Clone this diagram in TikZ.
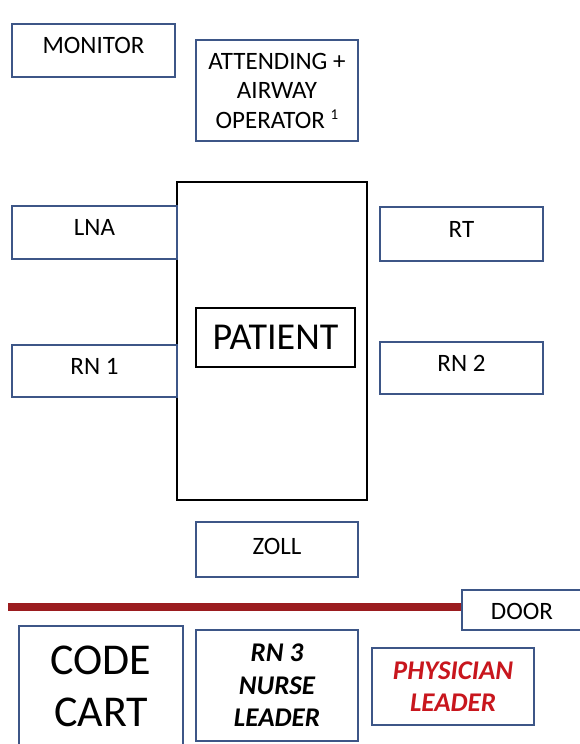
\documentclass[tikz,border=0pt]{standalone}
\usepackage{fontspec}
\setmainfont{Carlito}
\definecolor{boxblue}{HTML}{3D5687}
\definecolor{wallred}{HTML}{9B1C1F}
\definecolor{leadred}{HTML}{C8161D}
\begin{document}
\begin{tikzpicture}[x=1pt,y=-1pt,
  station/.style={draw=boxblue,line width=2.2pt,fill=white,inner sep=0pt},
  bedbox/.style={draw=black,line width=2.2pt,inner sep=0pt},
  lbl/.style={inner sep=0pt,align=center,font=\fontsize{25}{29.5}\selectfont},
  bigl/.style={inner sep=0pt,align=center,font=\fontsize{44}{52}\selectfont},
  leadl/.style={inner sep=0pt,align=center,font=\fontsize{27}{32.5}\selectfont\bfseries\itshape}]
\useasboundingbox (0,0) rectangle (579,744);

% top row
\node[station,minimum width=163pt,minimum height=53pt] (mon) at (93.5,50.5) {};
\node[lbl] (monl) at ([yshift=5pt]mon.center) {MONITOR};
\node[station,minimum width=162pt,minimum height=101pt] (att) at (277,90.5) {};
\node[lbl] (attl) at (att.center) {ATTENDING +\\AIRWAY\\OPERATOR \raisebox{0.35em}{\fontsize{15}{15}\selectfont 1}};

% bed and patient
\node[bedbox,minimum width=190pt,minimum height=318pt] (bed) at (272,341) {};
\node[bedbox,minimum width=159pt,minimum height=59pt] (pat) at (275.5,337.5) {};
\node[bigl,font=\fontsize{38}{44}\selectfont] (patl) at (pat.center) {PATIENT};

% bedside stations
\node[station,minimum width=165pt,minimum height=53pt] (lna) at (94.5,232.5) {};
\node[lbl] (lnal) at ([yshift=5pt]lna.center) {LNA};
\node[station,minimum width=163pt,minimum height=54pt] (rt) at (461.5,234) {};
\node[lbl] (rtl) at ([yshift=5pt]rt.center) {RT};
\node[station,minimum width=165pt,minimum height=52pt] (rn1) at (94.5,371) {};
\node[lbl] (rn1l) at ([yshift=5pt]rn1.center) {RN 1};
\node[station,minimum width=163pt,minimum height=52pt] (rn2) at (461.5,368) {};
\node[lbl] (rn2l) at ([yshift=5pt]rn2.center) {RN 2};
\node[station,minimum width=162pt,minimum height=55pt] (zoll) at (277,549.5) {};
\node[lbl] (zolll) at ([yshift=3pt]zoll.center) {ZOLL};

% wall and door
\coordinate (wallW) at (8,607);
\node[station,minimum width=130pt,minimum height=40pt] (door) at (527,610) {};
\node[lbl] (doorl) at (522,611) {DOOR};
\draw[wallred,line width=8pt] (wallW) -- (door.west |- wallW);

% outside the room
\node[station,minimum width=164pt,minimum height=124pt] (cart) at (101,688) {};
\node[bigl] (cartl) at (101,686) {CODE\\CART};
\node[station,minimum width=162pt,minimum height=111pt] (rn3) at (277,685.5) {};
\node[leadl] (rn3l) at (rn3.center) {RN 3\\NURSE\\LEADER};
\node[station,minimum width=162pt,minimum height=77pt] (phys) at (453,686.5) {};
\node[leadl,text=leadred] (physl) at (phys.center) {PHYSICIAN\\LEADER};
\end{tikzpicture}
\end{document}
